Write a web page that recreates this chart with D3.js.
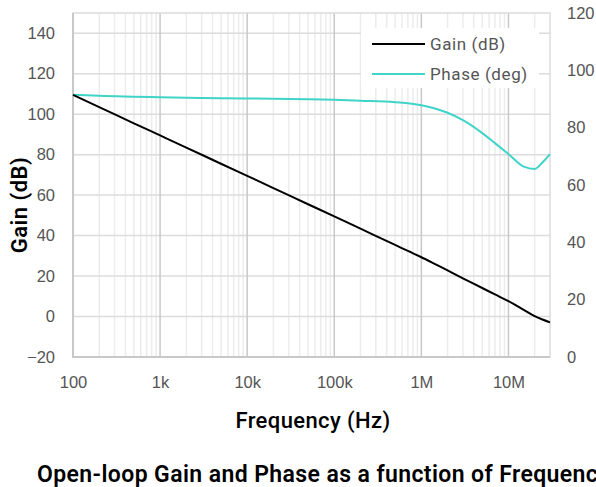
<!DOCTYPE html>
<html>
<head>
<meta charset="utf-8">
<script src="https://cdn.jsdelivr.net/npm/d3@7"></script>
<style>
  body { margin: 0; background: #fff; overflow: hidden; }
  svg { font-family: Roboto, "DejaVu Sans", sans-serif; }
</style>
</head>
<body>
<div id="chart"></div>
<script>
'use strict';

// values
var freqs = [100, 200, 500, 1e3, 2e3, 5e3, 1e4, 2e4, 5e4, 1e5, 2e5, 5e5, 7e5,
  1e6, 1.5e6, 2e6, 3e6, 5e6, 7e6, 1e7, 1.5e7, 2e7, 2.5e7, 3e7];
var gainDb = [109.5, 103.5, 95.5, 89.5, 83.5, 75.5, 69.5, 63.5, 55.5, 49.5, 43.4, 35.4, 32.4,
  29.3, 25.5, 22.8, 18.9, 14.1, 10.9, 7.6, 3.3, 0.2, -1.6, -2.9];
var phaseDeg = [91.5, 91.1, 90.8, 90.6, 90.4, 90.3, 90.2, 90.1, 89.9, 89.7, 89.4, 88.9, 88.5,
  87.8, 86.5, 85.2, 82.6, 78.1, 74.6, 70.8, 66.4, 65.6, 68.1, 70.8];

var xTicks = [100, 1e3, 1e4, 1e5, 1e6, 1e7];
var xTickLabels = ['100', '1k', '10k', '100k', '1M', '10M'];
var gainTicks = [-20, 0, 20, 40, 60, 80, 100, 120, 140];
var phaseTicks = [0, 20, 40, 60, 80, 100, 120];

var seriesNames = ['Gain (dB)', 'Phase (deg)'];
var seriesColors = ['#000000', '#40d4c8'];

var width = 596, height = 487;
var margin = { left: 73, right: 46, top: 13, bottom: 130 };

var svg = d3.select('#chart').append('svg')
  .attr('width', width)
  .attr('height', height);

var x = d3.scaleLog()
  .domain([100, 3e7])
  .range([margin.left, width - margin.right]);

var yGain = d3.scaleLinear()
  .domain([-20, 150])
  .range([height - margin.bottom, margin.top]);

var yPhase = d3.scaleLinear()
  .domain([0, 120])
  .range([height - margin.bottom, margin.top]);

var x0 = x.range()[0], x1 = x.range()[1];
var yb = yGain.range()[0], yt = yGain.range()[1];

// minor vertical grid
var minor = [];
for (var e = 2; e <= 7; e++) {
  for (var m = 2; m <= 9; m++) {
    var f = m * Math.pow(10, e);
    if (f < 3e7) minor.push(f);
  }
}

svg.append('g')
  .selectAll('line')
  .data(minor)
  .enter().append('line')
  .attr('x1', function(d) { return x(d); })
  .attr('x2', function(d) { return x(d); })
  .attr('y1', yt)
  .attr('y2', yb)
  .attr('stroke', '#ececec')
  .attr('stroke-width', 1.5);

// horizontal grid
svg.append('g')
  .selectAll('line')
  .data(gainTicks)
  .enter().append('line')
  .attr('x1', x0)
  .attr('x2', x1)
  .attr('y1', function(d) { return yGain(d); })
  .attr('y2', function(d) { return yGain(d); })
  .attr('stroke', '#dcdcdc')
  .attr('stroke-width', 1.5);

// major vertical grid
svg.append('g')
  .selectAll('line')
  .data(xTicks)
  .enter().append('line')
  .attr('x1', function(d) { return x(d); })
  .attr('x2', function(d) { return x(d); })
  .attr('y1', yt)
  .attr('y2', yb)
  .attr('stroke', '#c8c8c8')
  .attr('stroke-width', 1.5);

// frame
svg.append('rect')
  .attr('x', x0)
  .attr('y', yt)
  .attr('width', x1 - x0)
  .attr('height', yb - yt)
  .attr('fill', 'none')
  .attr('stroke', '#dcdcdc')
  .attr('stroke-width', 1.5);

svg.append('path')
  .attr('d', 'M' + x0 + ',' + yt + 'V' + yb + 'H' + x1)
  .attr('fill', 'none')
  .attr('stroke', '#c8c8c8')
  .attr('stroke-width', 2);

// axes (labels only)
var bottomAxis = svg.append('g')
  .attr('transform', 'translate(0,' + yb + ')')
  .call(d3.axisBottom(x).tickValues(xTicks)
    .tickFormat(function(d, i) { return xTickLabels[i]; })
    .tickSize(0).tickPadding(19));

var leftAxis = svg.append('g')
  .attr('transform', 'translate(' + x0 + ',0)')
  .call(d3.axisLeft(yGain).tickValues(gainTicks).tickSize(0).tickPadding(18)
    .tickFormat(function(d) { return d < 0 ? '\u2212' + (-d) : d; }));

var rightAxis = svg.append('g')
  .attr('transform', 'translate(' + x1 + ',0)')
  .call(d3.axisRight(yPhase).tickValues(phaseTicks).tickSize(0).tickPadding(17));

[bottomAxis, leftAxis, rightAxis].forEach(function(ax) {
  ax.select('.domain').remove();
  ax.selectAll('text')
    .attr('fill', '#555')
    .style('font-size', '16.5px');
});

// series
var gainLine = d3.line()
  .x(function(d, i) { return x(freqs[i]); })
  .y(function(d) { return yGain(d); })
  .curve(d3.curveMonotoneX);

var phaseLine = d3.line()
  .x(function(d, i) { return x(freqs[i]); })
  .y(function(d) { return yPhase(d); })
  .curve(d3.curveMonotoneX);

svg.append('path')
  .datum(phaseDeg)
  .attr('d', phaseLine)
  .attr('fill', 'none')
  .attr('stroke', seriesColors[1])
  .attr('stroke-width', 2);

svg.append('path')
  .datum(gainDb)
  .attr('d', gainLine)
  .attr('fill', 'none')
  .attr('stroke', seriesColors[0])
  .attr('stroke-width', 2);

// legend
var legend = svg.append('g').attr('transform', 'translate(361,28)');
legend.append('rect')
  .attr('width', 178)
  .attr('height', 60)
  .attr('fill', '#fff');

var item = legend.selectAll('.item')
  .data(seriesNames)
  .enter().append('g')
  .attr('class', 'item')
  .attr('transform', function(d, i) { return 'translate(0,' + (16 + i * 30) + ')'; });

item.append('line')
  .attr('x1', 11)
  .attr('x2', 64)
  .attr('stroke', function(d, i) { return seriesColors[i]; })
  .attr('stroke-width', 2);

item.append('text')
  .attr('x', 69)
  .attr('dy', '0.35em')
  .attr('fill', '#555')
  .style('font-size', '17px')
  .style('letter-spacing', '0.6px')
  .text(function(d) { return d; });

// titles
svg.append('text')
  .attr('transform', 'translate(27,205) rotate(-90)')
  .attr('text-anchor', 'middle')
  .style('font-size', '22px')
  .style('font-weight', 600)
  .style('letter-spacing', '0.5px')
  .text('Gain (dB)');

svg.append('text')
  .attr('x', 313)
  .attr('y', 428)
  .attr('text-anchor', 'middle')
  .style('font-size', '22px')
  .style('font-weight', 500)
  .style('letter-spacing', '0.4px')
  .text('Frequency (Hz)');

svg.append('text')
  .attr('x', 37)
  .attr('y', 482)
  .style('font-size', '23px')
  .style('font-weight', 600)
  .style('letter-spacing', '0.4px')
  .text('Open-loop Gain and Phase as a function of Frequency');
</script>
</body>
</html>
